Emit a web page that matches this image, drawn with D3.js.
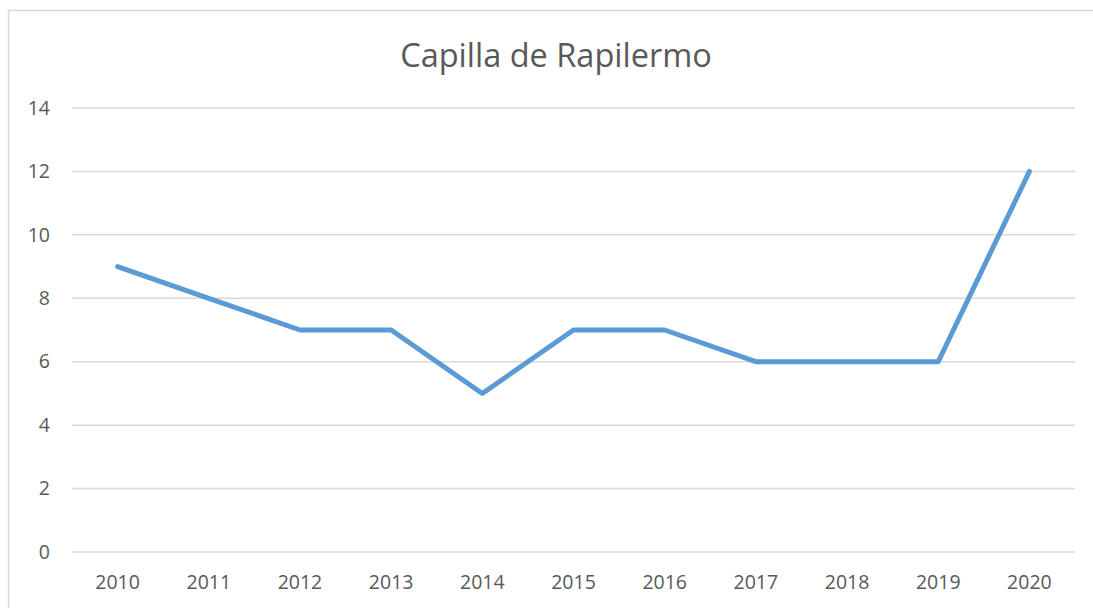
<!DOCTYPE html>
<html>
<head>
<meta charset="utf-8">
<script src="https://cdn.jsdelivr.net/npm/d3@7"></script>
<style>
  body { margin: 0; background: #fff; }
  text { font-family: "Open Sans", "Noto Sans", sans-serif; fill: #595959; }
</style>
</head>
<body>
<div class="chart"></div>
<script>
    const years = ["2010","2011","2012","2013","2014","2015","2016","2017","2018","2019","2020"];
    const values = [9, 8, 7, 7, 5, 7, 7, 6, 6, 6, 12];
    const yTicks = [0, 2, 4, 6, 8, 10, 12, 14];
    const title = "Capilla de Rapilermo";

    const W = 1093, H = 608;
    const margin = ({top: 108, right: 18, bottom: 56, left: 72});
    const width = W - margin.left - margin.right,
        height = H - margin.top - margin.bottom;

    const root = d3.select(".chart").append("svg")
        .attr("width", W)
        .attr("height", H);

    // chart frame (only top and left visible in crop)
    root.append("rect")
        .attr("x", 8.5).attr("y", 10.5)
        .attr("width", W + 20).attr("height", H + 20)
        .attr("fill", "none")
        .attr("stroke", "#d9d9d9")
        .attr("stroke-width", 1.5);

    root.append("text")
        .attr("x", 556)
        .attr("y", 67)
        .attr("text-anchor", "middle")
        .style("font-size", "32.5px")
        .text(title);

    const svg = root.append("g")
        .attr("transform", "translate(" + margin.left + "," + margin.top + ")");

    const xScale = d3.scaleBand()
        .domain(years)
        .range([0, width])
        .paddingInner(0)
        .paddingOuter(0);

    const yScale = d3.scaleLinear()
        .domain([0, 14])
        .range([height, 0]);

    // gridlines
    svg.selectAll(".grid")
        .data(yTicks)
        .enter().append("line")
        .attr("class", "grid")
        .attr("x1", 0).attr("x2", width)
        .attr("y1", d => yScale(d)).attr("y2", d => yScale(d))
        .attr("stroke", "#d9d9d9")
        .attr("stroke-width", 1.5);

    const yAxis = d3.axisLeft(yScale).tickValues(yTicks).tickSize(0).tickPadding(22);
    const gy = svg.append("g").attr("class", "y-axis").call(yAxis);
    gy.select(".domain").remove();
    gy.selectAll("text").style("font-size", "19.5px").attr("fill", "#595959");

    const xAxis = d3.axisBottom(xScale).tickSize(0).tickPadding(23);
    const gx = svg.append("g")
        .attr("class", "x-axis")
        .attr("transform", "translate(0," + height + ")")
        .call(xAxis);
    gx.select(".domain").remove();
    gx.selectAll("text").style("font-size", "19.5px").attr("fill", "#595959");

    const line = d3.line()
        .x((d, i) => xScale(years[i]) + xScale.bandwidth() / 2)
        .y(d => yScale(d));

    svg.append("path")
        .datum(values)
        .attr("d", line)
        .attr("fill", "none")
        .attr("stroke", "#5b9bd5")
        .attr("stroke-width", 5)
        .attr("stroke-linecap", "round")
        .attr("stroke-linejoin", "round");
</script>
</body>
</html>
